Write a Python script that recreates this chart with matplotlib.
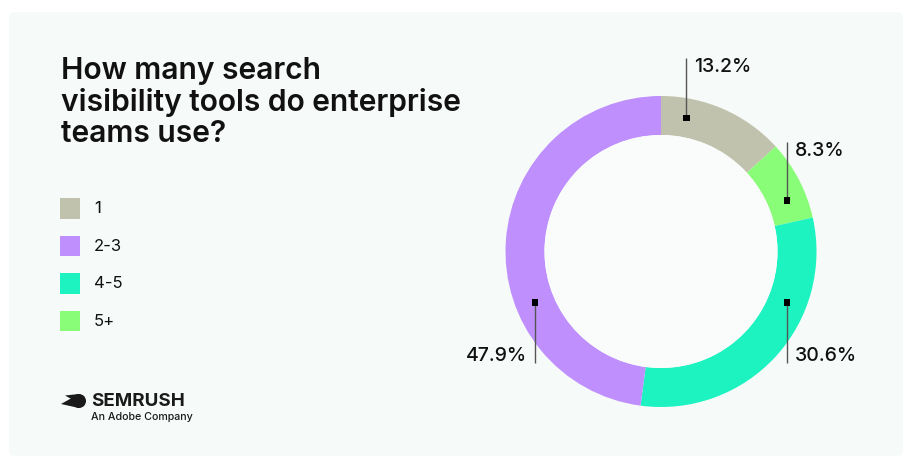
import matplotlib
matplotlib.use("Agg")
import matplotlib.pyplot as plt
from matplotlib.patches import FancyBboxPatch, Rectangle, Circle, Polygon
import numpy as np

plt.rcParams['font.family'] = ['Inter', 'DejaVu Sans']

# ---- data ----
title = "How many search\nvisibility tools do enterprise\nteams use?"
categories = ['1', '2-3', '4-5', '5+']
values = [13.2, 47.9, 30.6, 8.3]
labels = ['13.2%', '47.9%', '30.6%', '8.3%']
colors = ['#c1c2ad', '#bf8ffd', '#1df2c1', '#8afd78']
pie_order = [0, 3, 2, 1]  # clockwise from 12 o'clock

W, H = 913, 469
fig = plt.figure(figsize=(W / 100, H / 100), dpi=100)
fig.patch.set_facecolor('white')
ax = fig.add_axes([0, 0, 1, 1])


def Y(py):
    return H - py


# panel
ax.add_patch(FancyBboxPatch((9 + 6, Y(456) + 6), 894 - 12, 444 - 12,
                            boxstyle="round,pad=6", facecolor='#f6faf9',
                            edgecolor='none', zorder=0))

# donut
cx, cy, R, ring = 661, Y(251.5), 155.5, 39
ax.pie([values[i] for i in pie_order], colors=[colors[i] for i in pie_order],
       startangle=90, counterclock=False, radius=R, center=(cx, cy),
       wedgeprops=dict(width=ring, edgecolor='none', linewidth=0))
ax.add_patch(Circle((cx, cy), R - ring, facecolor='#f9fcfb', edgecolor='none', zorder=1))

# callouts (layout)
marker_angle = {0: 10.8, 3: 68.0, 2: 112.0, 1: 248.0}
line_end = {0: 58, 3: 141.7, 2: 362.7, 1: 362.7}
rm = R - ring / 2
for i in range(len(values)):
    a = np.deg2rad(marker_angle[i])
    mx = cx + rm * np.sin(a)
    my = cy + rm * np.cos(a)
    ye = Y(line_end[i])
    ax.plot([mx, mx], [my, ye], color='#555555', lw=1.0, zorder=3, solid_capstyle='butt')
    ax.add_patch(Rectangle((mx - 3.2, my - 3.2), 6.4, 6.4, facecolor='black',
                           edgecolor='none', zorder=4))
    kw = dict(fontsize=14, va='center', color='#111111', zorder=5, fontweight='medium')
    if i in (0, 3):
        ax.text(mx + 8, ye - 9, labels[i], ha='left', **kw)
    elif i == 2:
        ax.text(mx + 8, ye + 7, labels[i], ha='left', **kw)
    else:
        ax.text(mx - 8, ye + 7, labels[i], ha='right', **kw)

# title
ax.text(61, Y(57), title, fontsize=21.6, ha='left', va='top', color='#111111',
        linespacing=1.14, fontweight='semibold')

# legend
for k, lab in enumerate(categories):
    y0 = 198 + k * 37.5
    ax.add_patch(Rectangle((60, Y(y0 + 20.5)), 20, 20.5, facecolor=colors[k],
                           edgecolor='none'))
    ax.text(94, Y(y0 + 10.5), lab, fontsize=12, ha='left', va='center', color='#111111')

# logo
ax.add_patch(Circle((79, Y(401)), 7, facecolor='#1a1a1a', edgecolor='none'))
ax.add_patch(Polygon([(61, Y(404)), (79, Y(394)), (79, Y(408))],
                     closed=True, facecolor='#1a1a1a', edgecolor='none'))
ax.add_patch(Polygon([(65, Y(395.5)), (79, Y(394)), (75, Y(401))],
                     closed=True, facecolor='#1a1a1a', edgecolor='none'))
ax.text(91, Y(401.5), 'SEMRUSH', fontsize=13.5, fontweight='bold', ha='left',
        va='center', color='#1a1a1a')
ax.text(91, Y(417), 'An Adobe Company', fontsize=7.7, ha='left', va='center',
        color='#1a1a1a', fontweight='medium')

ax.set_xlim(0, W)
ax.set_ylim(0, H)
ax.set_aspect('equal')
ax.axis('off')

fig.savefig('out.png', dpi=100, facecolor=fig.get_facecolor())
